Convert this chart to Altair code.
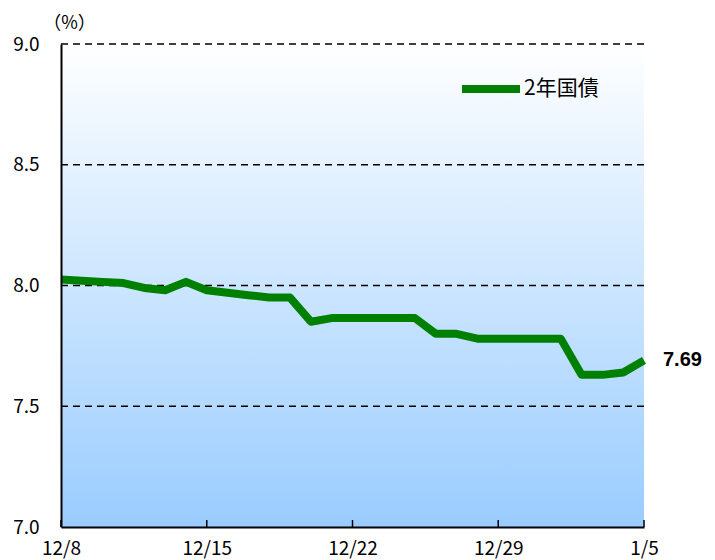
import altair as alt
import pandas as pd

# ---- data ----
dates = ["12/8", "12/9", "12/10", "12/11", "12/12", "12/13", "12/14",
         "12/15", "12/16", "12/17", "12/18", "12/19", "12/20", "12/21",
         "12/22", "12/23", "12/24", "12/25", "12/26", "12/27", "12/28",
         "12/29", "12/30", "12/31", "1/1", "1/2", "1/3", "1/4", "1/5"]
yields = [8.025, 8.02, 8.015, 8.01, 7.99, 7.98, 8.015,
          7.98, 7.97, 7.96, 7.95, 7.95, 7.85, 7.865,
          7.865, 7.865, 7.865, 7.865, 7.80, 7.80, 7.78,
          7.78, 7.78, 7.78, 7.78, 7.63, 7.63, 7.64, 7.69]
series_name = "2年国債"
tick_labels = ["12/8", "12/15", "12/22", "12/29", "1/5"]
y_ticks = [7.0, 7.5, 8.0, 8.5, 9.0]
grid_values = [7.5, 8.0, 8.5, 9.0]

W, H = 583, 483
FONT = "Liberation Sans Narrow, Noto Sans CJK JP, sans-serif"

df = pd.DataFrame({"date": dates, "value": yields, "series": series_name})
last = df.tail(1).copy()
last["label"] = [f"{v:.2f}" for v in last["value"]]
grid_df = pd.DataFrame({"value": grid_values})
tick_df = pd.DataFrame({"date": tick_labels})

xscale = alt.Scale(type="point", padding=0, domain=dates)
yscale = alt.Scale(domain=[7.0, 9.0], nice=False, zero=False)

xaxis = alt.Axis(values=tick_labels, labelAngle=0, ticks=False,
                 labelPadding=12, labelFontSize=19, labelFont=FONT,
                 labelColor="black", domainColor="black",
                 domainWidth=2, grid=False, zindex=1)
yaxis = alt.Axis(values=y_ticks, format=".1f", ticks=False,
                 labelPadding=22, labelFontSize=19, labelFont=FONT,
                 labelColor="black", domainColor="black",
                 domainWidth=2, grid=False, zindex=1,
                 title="（%）", titleAngle=0, titleX=8, titleY=-21,
                 titleAlign="center", titleBaseline="middle",
                 titleFontSize=18, titleFontWeight="normal",
                 titleFont="Noto Sans CJK JP", titleColor="black")

X = alt.X("date:O", scale=xscale, sort=dates, title=None, axis=xaxis)
Y = alt.Y("value:Q", scale=yscale, axis=yaxis)

bg = alt.Chart(pd.DataFrame({"a": [0]})).mark_rect(
    color=alt.Gradient(
        gradient="linear",
        stops=[alt.GradientStop(color="#ffffff", offset=0),
               alt.GradientStop(color="#99ccff", offset=1)],
        x1=0, x2=0, y1=0, y2=1,
    )
).encode(x=alt.value(0), x2=alt.value(W), y=alt.value(0), y2=alt.value(H))

grid = alt.Chart(grid_df).mark_rule(
    color="black", strokeDash=[7, 5], strokeWidth=1.5
).encode(y=Y)

ticks = alt.Chart(tick_df).mark_rule(color="black", strokeWidth=1.5).encode(
    x=X, y=alt.value(H), y2=alt.value(H - 7),
)

line = alt.Chart(df).mark_line(strokeWidth=8, strokeJoin="round").encode(
    x=X, y=Y,
    color=alt.Color("series:N",
                    scale=alt.Scale(domain=[series_name], range=["#008000"]),
                    legend=alt.Legend(title=None, orient="none", legendX=397,
                                      legendY=12, symbolType="stroke",
                                      symbolSize=3364, symbolStrokeWidth=8,
                                      labelFontSize=21, labelFont="Noto Sans CJK JP",
                                      labelColor="black", labelOffset=0,
                                      padding=0)),
)

label = alt.Chart(last).mark_text(
    align="left", baseline="middle", dx=19, fontSize=20, fontWeight="bold",
    font="Liberation Sans, Arial, sans-serif", color="black"
).encode(x=X, y=Y, text="label:N")

chart = alt.layer(bg, grid, ticks, line, label).properties(
    width=W, height=H,
    autosize=alt.AutoSizeParams(type="none"),
    padding={"left": 53, "top": 36, "right": 63, "bottom": 33},
).configure_view(stroke=None)

chart.save("out.html", embed_options={"renderer": "svg", "actions": False})
